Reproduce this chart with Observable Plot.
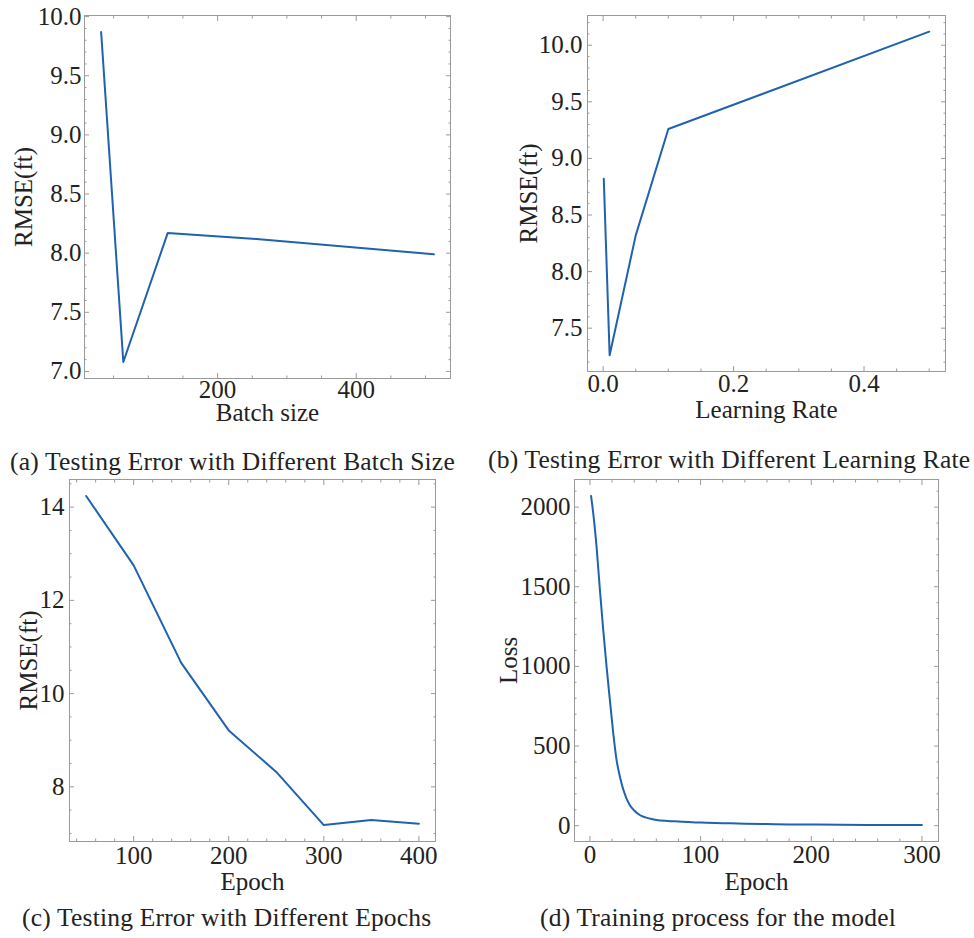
<!DOCTYPE html>
<html><head><meta charset="utf-8">
<script src="https://cdn.jsdelivr.net/npm/d3@7"></script>
<script src="https://cdn.jsdelivr.net/npm/@observablehq/plot@0.6"></script>
<style>
body{margin:0;background:#fff;}
#wrap{position:relative;width:974px;height:938px;font-family:'Liberation Serif',serif;color:#222;}
.panel{position:absolute;}
.cap{position:absolute;font-size:25.5px;line-height:25px;white-space:nowrap;color:#222;letter-spacing:0.2px;}
</style></head><body><div id="wrap"></div>
<script>
// (a) batch size
const batchSizes = [32, 64, 128, 256, 512];
const batchRmse = [9.87, 7.08, 8.17, 8.12, 7.99];
const batchXTicks = [200, 400];
const batchYTicks = [7.0, 7.5, 8.0, 8.5, 9.0, 9.5, 10.0];
// (b) learning rate
const learningRates = [0.001, 0.01, 0.05, 0.1, 0.5];
const lrRmse = [8.82, 7.26, 8.32, 9.26, 10.12];
const lrXTicks = [0.0, 0.2, 0.4];
const lrYTicks = [7.5, 8.0, 8.5, 9.0, 9.5, 10.0];
// (c) epochs
const epochSettings = [50, 100, 150, 200, 250, 300, 350, 400];
const epochRmse = [14.24, 12.75, 10.66, 9.21, 8.32, 7.18, 7.29, 7.21];
const epochXTicks = [100, 200, 300, 400];
const epochYTicks = [8, 10, 12, 14];
// (d) training loss
const trainEpochs = [1, 3, 6, 9, 12, 15, 18, 21, 24, 27, 30, 33, 36, 40, 45, 50, 55, 60, 70, 80, 100, 120, 140, 160, 180, 200, 250, 300];
const trainLoss = [2070, 1960, 1750, 1480, 1230, 1000, 790, 585, 415, 310, 230, 172, 130, 95, 67, 52, 43, 36, 30, 27, 20, 16, 12, 10, 8, 7, 5, 4];
const lossXTicks = [0, 100, 200, 300];
const lossYTicks = [0, 500, 1000, 1500, 2000];

const captions = [
  "(a) Testing Error with Different Batch Size",
  "(b) Testing Error with Different Learning Rate",
  "(c) Testing Error with Different Epochs",
  "(d) Training process for the model"
];

const blue = "#1f62b0";
const gray = "#9a9a9a";
const serif = "Liberation Serif";

function padded(values) {
  const [lo, hi] = d3.extent(values);
  const p = (hi - lo) * 0.05;
  return [lo - p, hi + p];
}
function minorTicks(domain, step) {
  const start = Math.ceil(domain[0] / step) * step;
  return d3.range(start, domain[1] + 1e-9, step).map(v => +v.toFixed(6));
}

function panel(o) {
  const data = o.xs.map((x, i) => ({x, y: o.ys[i]}));
  const xd = padded(o.xs), yd = padded(o.ys);
  const xMinor = minorTicks(xd, o.xMinorStep).filter(v => !o.xTicks.some(t => Math.abs(t - v) < 1e-9));
  const yMinor = minorTicks(yd, o.yMinorStep).filter(v => !o.yTicks.some(t => Math.abs(t - v) < 1e-9));
  const chart = Plot.plot({
    width: o.width, height: o.height,
    marginTop: o.m[0], marginRight: o.m[1], marginBottom: o.m[2], marginLeft: o.m[3],
    style: {fontFamily: serif, fontSize: "25px", color: "#222", background: "transparent"},
    x: {domain: xd, label: null},
    y: {domain: yd, label: null},
    marks: [
      Plot.frame({stroke: gray}),
      Plot.axisX(o.xTicks, {anchor: "bottom", tickSize: 0, tickPadding: o.xPad, tickFormat: o.xFmt, fontSize: 25, fontFamily: serif}),
      Plot.axisY(o.yTicks, {anchor: "left", tickSize: 0, tickPadding: o.yPad, tickFormat: o.yFmt, fontSize: 25, fontFamily: serif}),
      Plot.axisX(o.xTicks, {anchor: "bottom", tickSize: -5, text: null, stroke: gray}),
      Plot.axisX(o.xTicks, {anchor: "top", tickSize: -5, text: null, stroke: gray}),
      Plot.axisX(xMinor, {anchor: "bottom", tickSize: -2.5, text: null, stroke: gray}),
      Plot.axisX(xMinor, {anchor: "top", tickSize: -2.5, text: null, stroke: gray}),
      Plot.axisY(o.yTicks, {anchor: "left", tickSize: -5, text: null, stroke: gray}),
      Plot.axisY(o.yTicks, {anchor: "right", tickSize: -5, text: null, stroke: gray}),
      Plot.axisY(yMinor, {anchor: "left", tickSize: -2.5, text: null, stroke: gray}),
      Plot.axisY(yMinor, {anchor: "right", tickSize: -2.5, text: null, stroke: gray}),
      Plot.line(data, {x: "x", y: "y", stroke: blue, strokeWidth: 2, curve: o.curve || "linear"}),
      Plot.text([o.xLabel], {text: d => d, frameAnchor: "bottom", textAnchor: "middle", lineAnchor: "bottom", dy: o.xLabelDy, fontSize: 25, fontFamily: serif}),
      Plot.text([o.yLabel], {text: d => d, frameAnchor: "left", textAnchor: "middle", lineAnchor: "bottom", rotate: -90, dx: o.yLabelDx, fontSize: 25, fontFamily: serif})
    ]
  });
  chart.classList.add("panel");
  chart.style.left = o.left + "px";
  chart.style.top = o.top + "px";
  document.getElementById("wrap").appendChild(chart);
}

const f1 = d3.format(".1f");
const f0 = d3.format("d");

panel({xs: batchSizes, ys: batchRmse, left: 0, top: 0, width: 460, height: 430, m: [15, 10, 52, 84],
  xTicks: batchXTicks, yTicks: batchYTicks, xMinorStep: 50, yMinorStep: 0.1, xFmt: f0, yFmt: f1,
  xPad: 2, yPad: 3, xLabel: "Batch size", yLabel: "RMSE(ft)", xLabelDy: 42, yLabelDx: -53});
panel({xs: learningRates, ys: lrRmse, left: 490, top: 0, width: 484, height: 430, m: [15, 29, 59, 97],
  xTicks: lrXTicks, yTicks: lrYTicks, xMinorStep: 0.05, yMinorStep: 0.1, xFmt: f1, yFmt: f1,
  xPad: 3, yPad: 5, xLabel: "Learning Rate", yLabel: "RMSE(ft)", xLabelDy: 46, yLabelDx: -51});
panel({xs: epochSettings, ys: epochRmse, left: 0, top: 470, width: 460, height: 430, m: [9, 25, 59, 69],
  xTicks: epochXTicks, yTicks: epochYTicks, xMinorStep: 20, yMinorStep: 0.5, xFmt: f0, yFmt: f0,
  xPad: 5, yPad: 5, xLabel: "Epoch", yLabel: "RMSE(ft)", xLabelDy: 48, yLabelDx: -33});
panel({xs: trainEpochs, ys: trainLoss, left: 490, top: 470, width: 484, height: 430, m: [9, 36, 59, 84],
  xTicks: lossXTicks, yTicks: lossYTicks, xMinorStep: 20, yMinorStep: 100, xFmt: f0, yFmt: f0,
  xPad: 4, yPad: 4, xLabel: "Epoch", yLabel: "Loss", xLabelDy: 48, yLabelDx: -58, curve: "monotone-x"});

const capPos = [[10, 470], [488, 468], [22, 926], [540, 926]];
captions.forEach((c, i) => {
  const d = document.createElement("div");
  d.className = "cap";
  d.textContent = c;
  d.style.left = capPos[i][0] + "px";
  d.style.top = (capPos[i][1] - 21) + "px";
  document.getElementById("wrap").appendChild(d);
});
</script></body></html>
